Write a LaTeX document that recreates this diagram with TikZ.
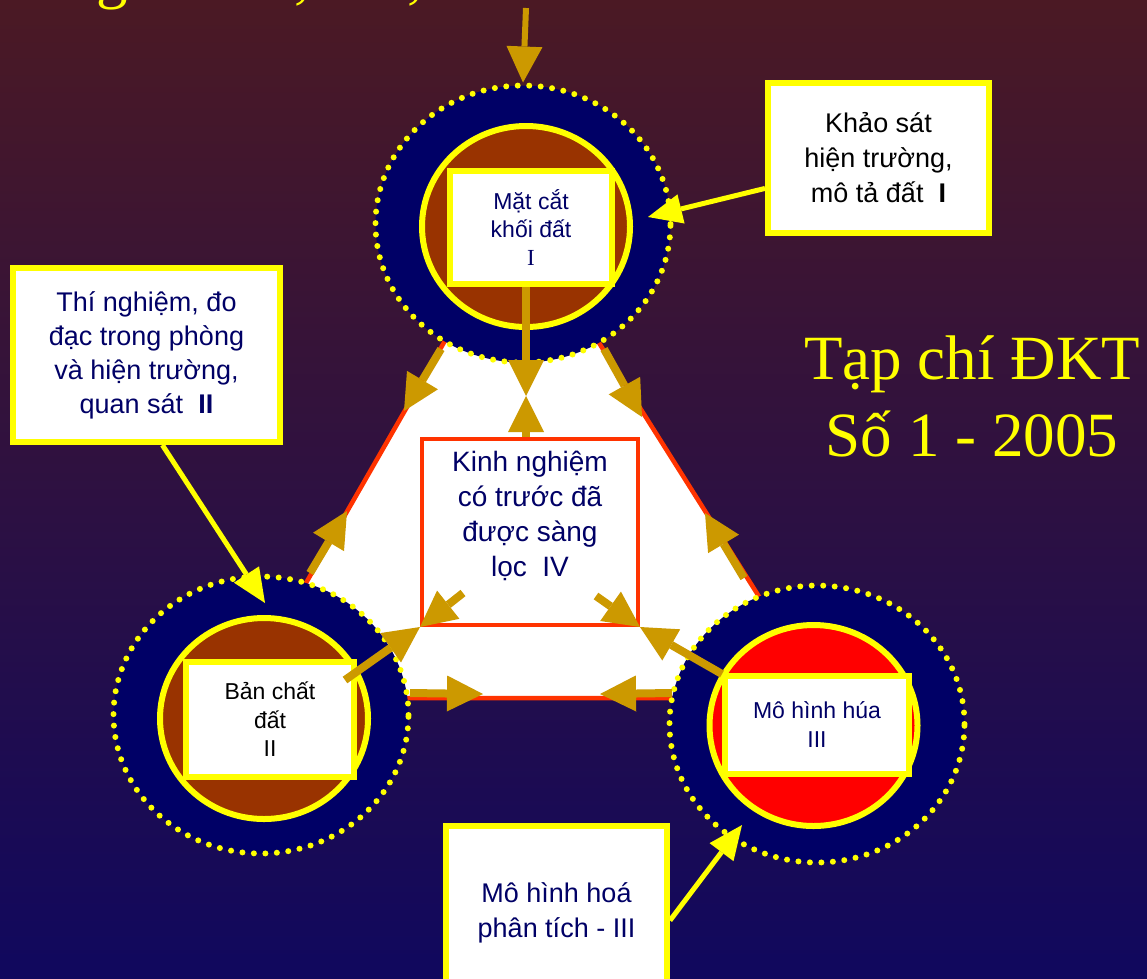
\documentclass[tikz,border=0pt]{standalone}
\usepackage{fontspec}
\setmainfont{Liberation Sans}
\newfontfamily\serifvn{Liberation Serif}
\usepackage{tikz}
\usetikzlibrary{arrows.meta,shapes.geometric}

\definecolor{bgtop}{HTML}{4B1924}
\definecolor{bgbot}{HTML}{10085E}
\definecolor{navy}{HTML}{000066}
\definecolor{gold}{HTML}{CC9900}
\definecolor{soil}{HTML}{993300}
\definecolor{edgered}{HTML}{FF3300}
\definecolor{ylw}{HTML}{FFFF00}

\begin{document}
\begin{tikzpicture}[x=1pt, y=-1pt,
  ring/.style={ellipse, fill=navy, draw=ylw, line width=6pt, line cap=round,
    dash pattern=on 0pt off 11.5pt, minimum width=295pt, minimum height=277pt, inner sep=0pt},
  core/.style={ellipse, draw=ylw, line width=6pt, minimum width=208pt, minimum height=201pt, inner sep=0pt},
  infobox/.style={rectangle, fill=white, draw=ylw, line width=6pt, align=center, inner sep=0pt},
  goldarrow/.style={color=gold, line width=8pt, -{Triangle[length=36pt,width=36pt,line width=0pt]}},
  yellowarrow/.style={color=ylw, line width=5pt, -{Triangle[length=34pt,width=30pt,line width=0pt]}}]

  \useasboundingbox (0,0) rectangle (1147,978);
  \shade[top color=bgtop, bottom color=bgbot] (0,0) rectangle (1147,978);

  % cut-off line at the top edge
  \node (cutg)  [anchor=base, text=ylw, font=\serifvn\fontsize{63}{63}\selectfont] at (112,-4) {g};
  \node (cutc1) [anchor=base, text=ylw, font=\serifvn\fontsize{63}{63}\selectfont] at (302,-4) {,};
  \node (cutc2) [anchor=base, text=ylw, font=\serifvn\fontsize{63}{63}\selectfont] at (415,-4) {,};

  \filldraw[fill=white, draw=edgered, line width=4.5pt]
    (512,224) -- (524,224) -- (823,698) -- (240,698) -- cycle;

  \node (topring)   [ring] at (523,224) {};
  \node (leftring)  [ring] at (261,715) {};
  \node (rightring) [ring] at (817,724) {};
  \node (topcore)   [core, fill=soil] at (526,226.5) {};
  \node (leftcore)  [core, fill=soil] at (264,718.5) {};
  \node (rightcore) [core, fill=red]  at (813.5,725.5) {};

  \node (matcat) [infobox, minimum width=162pt, minimum height=113pt, text=navy,
    font=\fontsize{23}{28}\selectfont] at (531,227.5) {Mặt cắt\\khối đất\\{\serifvn I}};
  \node (banchat) [infobox, minimum width=168pt, minimum height=115pt, text=black,
    font=\fontsize{23}{28.5}\selectfont] at (270,719.5) {Bản chất\\đất\\II};
  \node (mohinhhua) [infobox, minimum width=184pt, minimum height=98pt, text=navy,
    font=\fontsize{23}{29}\selectfont] at (817,725) {Mô hình húa\\III};

  \node (khaosat) [infobox, minimum width=221pt, minimum height=150pt, text=black,
    font=\fontsize{27}{35}\selectfont] at (878.5,158) {Khảo sát\\hiện trường,\\mô tả đất~~\textbf{I}};
  \node (thinghiem) [infobox, minimum width=267pt, minimum height=174pt, text=navy,
    font=\fontsize{27}{34}\selectfont] at (146.5,355)
    {Thí nghiệm, đo\\đạc trong phòng\\và hiện trường,\\quan sát~~\textbf{II}};
  \node (mohinhhoa) [infobox, minimum width=221pt, minimum height=173pt, text=navy,
    font=\fontsize{27}{35}\selectfont] at (556.5,912.5) {Mô hình hoá\\phân tích - III};

  \node (kinhnghiem) [rectangle, fill=white, draw=edgered, line width=4pt,
    minimum width=216pt, minimum height=186pt] at (530,532) {};
  \node (kinhnghiem-text) [text=navy, align=center, font=\fontsize{28}{35}\selectfont]
    at (530,516) {Kinh nghiệm\\có trước đã\\được sàng\\lọc~~IV};

  \node (tapchi) [text=ylw, align=center, font=\serifvn\fontsize{63}{77}\selectfont]
    at (972,396) {Tạp chí ĐKT\\Số 1 - 2005};

  \coordinate (topin)    at (526,8);
  \coordinate (midtip)   at (526,396);
  \coordinate (tl-start) at (441,349);
  \coordinate (tl-tip)   at (404,411);
  \coordinate (tr-start) at (604,349);
  \coordinate (tr-tip)   at (642,417);
  \coordinate (ll-start) at (310,573);
  \coordinate (ll-tip)   at (347,511);
  \coordinate (rl-start) at (744,578);
  \coordinate (rl-tip)   at (705,513);
  \coordinate (bl-start) at (410,693);
  \coordinate (bl-tip)   at (483,694);
  \coordinate (br-start) at (672,693);
  \coordinate (br-tip)   at (600,694);
  \coordinate (in-l)     at (463,593);
  \coordinate (in-r)     at (596,596);
  \coordinate (bc-start) at (345,680);
  \coordinate (mh-start) at (722,674);
  \coordinate (ks-tip)   at (648,217);
  \coordinate (tn-tip)   at (265,603);
  \coordinate (mh-tip)   at (742,825);

  \path[goldarrow] (topin) edge[line width=6pt] (topring.north)
    (matcat.south -| midtip) edge (midtip)
    (kinhnghiem.north -| midtip) edge (midtip)
    (tl-start) edge (tl-tip)
    (tr-start) edge (tr-tip)
    (ll-start) edge (ll-tip)
    (rl-start) edge (rl-tip)
    (bl-start) edge (bl-tip)
    (br-start) edge (br-tip)
    (bc-start) edge (kinhnghiem.south west)
    (mh-start) edge (kinhnghiem.south east)
    (in-l) edge (kinhnghiem.south west)
    (in-r) edge (kinhnghiem.south east);

  \path[yellowarrow] (khaosat.195) edge (ks-tip)
    (thinghiem.-80) edge (tn-tip)
    (mohinhhoa.-4) edge (mh-tip);
\end{tikzpicture}
\end{document}
